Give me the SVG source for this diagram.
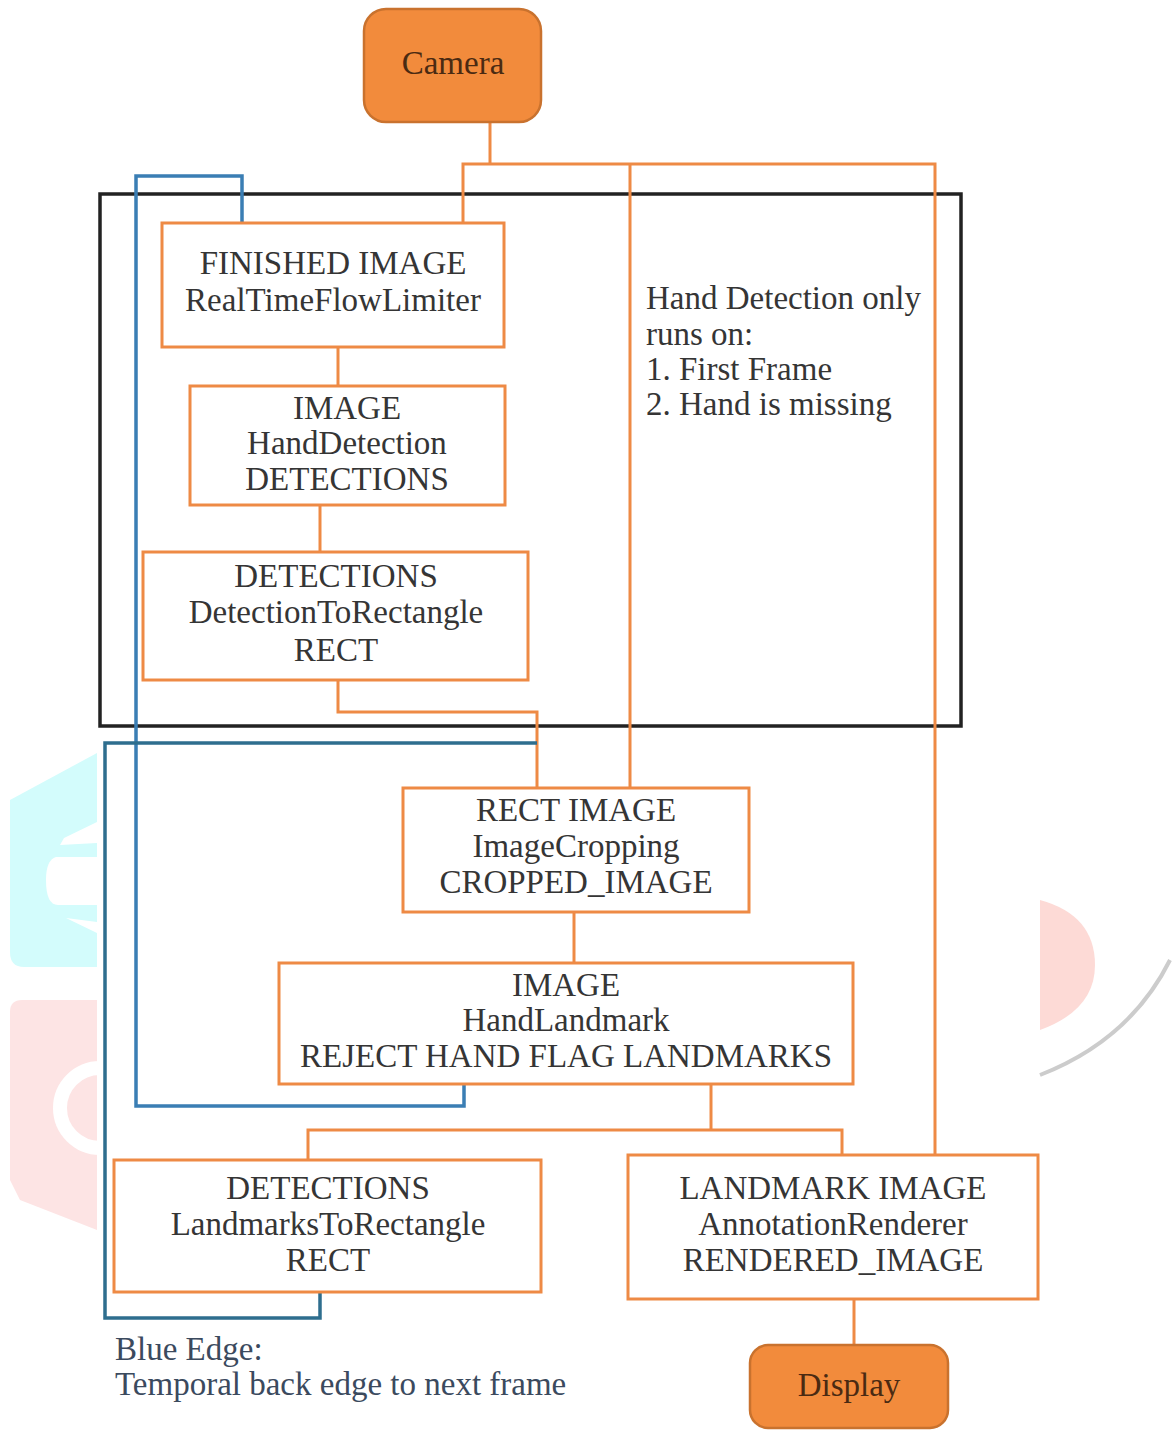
<svg xmlns="http://www.w3.org/2000/svg" width="1173" height="1431" viewBox="0 0 1173 1431">
<style>
.box{fill:#ffffff;stroke:#EE8A45;stroke-width:3}
.term{fill:#F28B3C;stroke:#C9722E;stroke-width:2.5}
.t{font-family:"Liberation Serif","Times New Roman",serif;font-size:33px;fill:#353535;text-anchor:middle}
.tl{font-family:"Liberation Serif","Times New Roman",serif;font-size:33px;fill:#353535}
.tt{font-family:"Liberation Serif","Times New Roman",serif;font-size:33px;fill:#4a2a12;text-anchor:middle}
.o{fill:none;stroke:#EE8A45;stroke-width:3}
.b1{fill:none;stroke:#3A7EB4;stroke-width:3.5}
.b2{fill:none;stroke:#2E6E8E;stroke-width:3.5}
</style>
<rect width="1173" height="1431" fill="#ffffff"/>
<g id="watermark">
<path d="M10,800 L97,753 L97,967 L24,967 Q10,967 10,952 Z" fill="#D3FCFC"/>
<path d="M97,822 L64,838 L60,845 L97,843 Z M97,857 L56,857 Q46,860 46,880 Q46,905 58,905 L97,905 Z M66,918 L97,933 L97,922 Z" fill="#ffffff"/>
<path d="M22,1000 L97,1000 L97,1230 L20,1200 L10,1180 L10,1012 Q10,1000 22,1000 Z" fill="#FDE4E4"/>
<circle cx="100" cy="1108" r="40" fill="none" stroke="#ffffff" stroke-width="14"/>
<path d="M1040,900 Q1095,915 1095,965 Q1095,1010 1040,1030 Z" fill="#FDDAD6"/>
<path d="M1040,1075 Q1130,1040 1170,960" fill="none" stroke="#cccccc" stroke-width="4"/>
</g>
<rect id="detection-region" x="100" y="194" width="861" height="532" fill="none" stroke="#222222" stroke-width="3.5"/>
<g id="connectors">
<path class="o" d="M490,122 V164"/>
<path class="o" d="M463,223 V164 H935 V1155"/>
<path class="o" d="M630,164 V788"/>
<path class="o" d="M338,347 V386"/>
<path class="o" d="M320,505 V552"/>
<path class="o" d="M338,680 V712 H537 V788"/>
<path class="o" d="M574,912 V963"/>
<path class="o" d="M711,1084 V1130"/>
<path class="o" d="M308,1160 V1130 H842 V1155"/>
<path class="o" d="M854,1299 V1345"/>
<path class="b1" d="M464,1084 V1106 H136 V176 H242 V223"/>
<path class="b2" d="M320,1292 V1318 H105 V743 H537"/>
</g>
<g id="camera">
<rect class="term" x="364" y="9" width="177" height="113" rx="22"/>
<text class="tt" x="453" y="74">Camera</text>
</g>
<g id="flow-limiter">
<rect class="box" x="162" y="223" width="342" height="124"/>
<text class="t" x="333" y="274">FINISHED IMAGE</text>
<text class="t" x="333" y="311">RealTimeFlowLimiter</text>
</g>
<g id="hand-detection">
<rect class="box" x="190" y="386" width="315" height="119"/>
<text class="t" x="347" y="419">IMAGE</text>
<text class="t" x="347" y="454">HandDetection</text>
<text class="t" x="347" y="490">DETECTIONS</text>
</g>
<g id="detection-to-rect">
<rect class="box" x="143" y="552" width="385" height="128"/>
<text class="t" x="336" y="587">DETECTIONS</text>
<text class="t" x="336" y="623">DetectionToRectangle</text>
<text class="t" x="336" y="661">RECT</text>
</g>
<g id="note">
<text class="tl" x="646" y="309">Hand Detection only</text>
<text class="tl" x="646" y="345">runs on:</text>
<text class="tl" x="646" y="380">1. First Frame</text>
<text class="tl" x="646" y="415">2. Hand is missing</text>
</g>
<g id="image-cropping">
<rect class="box" x="403" y="788" width="346" height="124"/>
<text class="t" x="576" y="821">RECT IMAGE</text>
<text class="t" x="576" y="857">ImageCropping</text>
<text class="t" x="576" y="893">CROPPED_IMAGE</text>
</g>
<g id="hand-landmark">
<rect class="box" x="279" y="963" width="574" height="121"/>
<text class="t" x="566" y="996">IMAGE</text>
<text class="t" x="566" y="1031">HandLandmark</text>
<text class="t" x="566" y="1067">REJECT HAND FLAG LANDMARKS</text>
</g>
<g id="landmarks-to-rect">
<rect class="box" x="114" y="1160" width="427" height="132"/>
<text class="t" x="328" y="1199">DETECTIONS</text>
<text class="t" x="328" y="1235">LandmarksToRectangle</text>
<text class="t" x="328" y="1271">RECT</text>
</g>
<g id="annotation-renderer">
<rect class="box" x="628" y="1155" width="410" height="144"/>
<text class="t" x="833" y="1199">LANDMARK IMAGE</text>
<text class="t" x="833" y="1235">AnnotationRenderer</text>
<text class="t" x="833" y="1271">RENDERED_IMAGE</text>
</g>
<g id="display">
<rect class="term" x="750" y="1345" width="198" height="83" rx="18"/>
<text class="tt" x="849" y="1396">Display</text>
</g>
<g id="legend">
<text class="tl" x="115" y="1360" style="fill:#3b4a5e">Blue Edge:</text>
<text class="tl" x="115" y="1395" style="fill:#3b4a5e">Temporal back edge to next frame</text>
</g>
</svg>
